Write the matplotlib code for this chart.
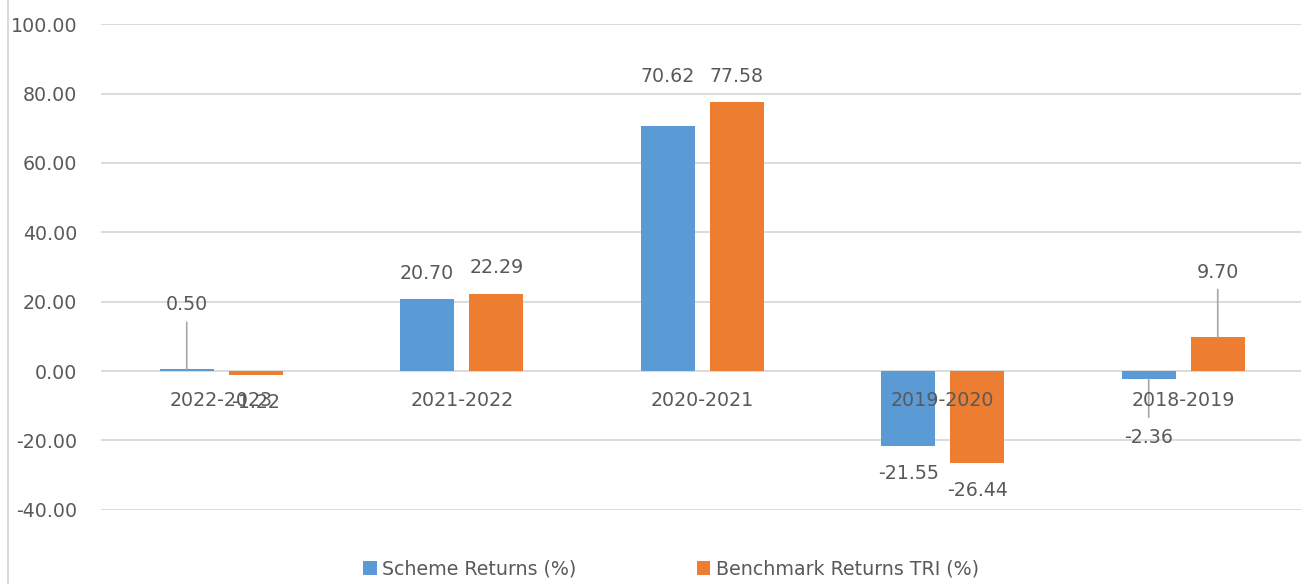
import matplotlib.pyplot as plt
from matplotlib.lines import Line2D
from matplotlib.patches import Patch
import numpy as np

# ------
# Data
periods = ["2022-2023", "2021-2022", "2020-2021", "2019-2020", "2018-2019"]
scheme = [0.50, 20.70, 70.62, -21.55, -2.36]
benchmark = [-1.22, 22.29, 77.58, -26.44, 9.70]
series_names = ["Scheme Returns (%)", "Benchmark Returns TRI (%)"]
yticks = [-40, -20, 0, 20, 40, 60, 80, 100]

# label offsets (pixels, from bar end) and leader line ends (None = no leader)
LABEL_DY = {
    0: [65, 26, 50, -28, -58],
    1: [-27, 26, 26, -28, 65],
}
LEADER_DY = {
    0: [47, None, None, None, -38],
    1: [None, None, None, None, 48],
}

COLORS = ["#5B9BD5", "#ED7D31"]
TEXT = "#595959"
GRID = "#D9D9D9"
FS = 13.7

W, H = 1301, 584
fig = plt.figure(figsize=(W / 100, H / 100), dpi=100)
ax = fig.add_axes([101 / W, 1 - 509.7 / H, 1202.5 / W, (509.7 - 24.3) / H])

x = np.arange(len(periods))
width = 0.225
offset = 0.1435
for k, vals in enumerate([scheme, benchmark]):
    xs = x + (-offset if k == 0 else offset)
    ax.bar(xs, vals, width=width, color=COLORS[k], zorder=3)
    for i, v in enumerate(vals):
        dy = LABEL_DY[k][i]
        ax.annotate(f"{v:.2f}", (xs[i], v), xytext=(0, dy),
                    textcoords="offset pixels", ha="center", va="center",
                    fontsize=FS, color=TEXT, zorder=5)
        ldy = LEADER_DY[k][i]
        if ldy is not None:
            ax.annotate("", (xs[i], v), xytext=(0, ldy),
                        textcoords="offset pixels",
                        arrowprops=dict(arrowstyle="-", color="#A6A6A6",
                                        lw=1.2, shrinkA=0, shrinkB=0),
                        zorder=4)

# category labels sit just under the zero line
for i, p in enumerate(periods):
    ax.annotate(p, (x[i], 0), xytext=(0, -29), textcoords="offset pixels",
                ha="center", va="center", fontsize=FS, color=TEXT, zorder=5)

ax.set_xlim(-0.5, len(periods) - 0.5)
ax.set_ylim(-40, 100)
ax.set_yticks(yticks)
ax.set_yticklabels([f"{t:.2f}" for t in yticks])
ax.tick_params(axis="y", length=0, pad=17, labelsize=FS, labelcolor=TEXT)
ax.set_xticks([])
ax.grid(axis="y", color=GRID, lw=1.3, zorder=0)
for sp in ax.spines.values():
    sp.set_visible(False)

# legend
handles = [Patch(facecolor=c, edgecolor="none") for c in COLORS]
leg = fig.legend(handles, series_names, loc="center",
                 bbox_to_anchor=(671 / W, 1 - 569 / H), ncol=2, frameon=False,
                 fontsize=FS, handlelength=0.7, handleheight=0.7,
                 handletextpad=0.3, columnspacing=6.3, borderpad=0)
for t in leg.get_texts():
    t.set_color(TEXT)

# chart frame (left edge visible)
fig.add_artist(Line2D([8 / W, 8 / W], [0, 1], color=GRID, lw=1.5))

fig.savefig("out.png", dpi=100)
